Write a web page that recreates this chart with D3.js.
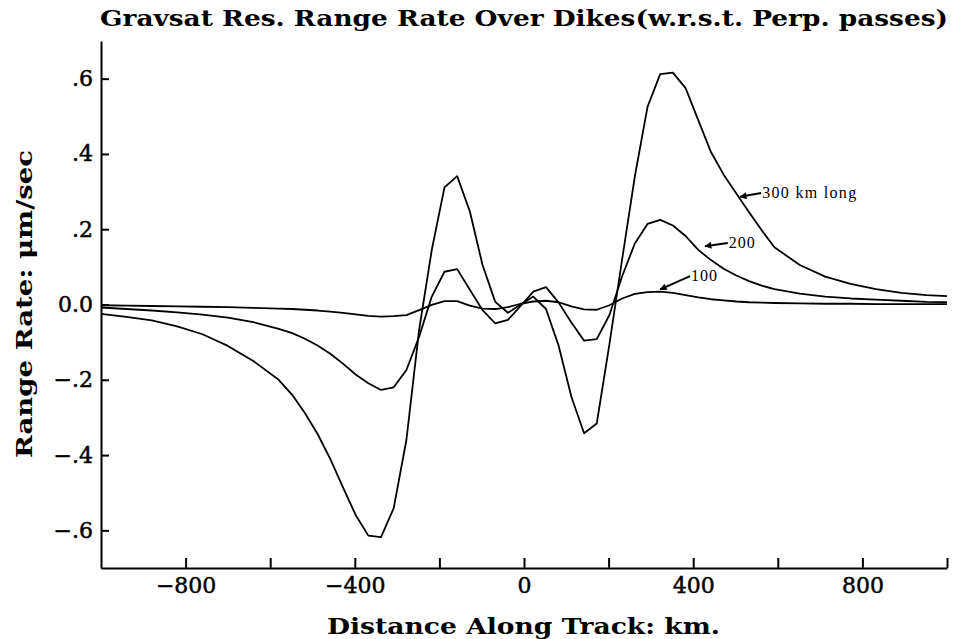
<!DOCTYPE html>
<html>
<head>
<meta charset="utf-8">
<script src="https://cdn.jsdelivr.net/npm/d3@7"></script>
<style>
  body { margin: 0; background: #fff; }
  svg { display: block; }
  .axis path, .axis line { stroke: #000; stroke-width: 2; }
  .axis text { font-family: "DejaVu Serif", serif; font-size: 22px; fill: #000; stroke: #000; stroke-width: 0.5; }
</style>
</head>
<body>
<svg id="chart"></svg>
<script>
// distance along track (km) where the curves were sampled
var distance = [-1000, -940, -880, -820, -760, -700, -640, -580,
  -548, -518, -488, -458, -428, -398, -368, -338, -308, -278, -248, -218,
  -188, -158, -128, -98, -68, -38, -8, 22, 52, 82, 112, 142, 172, 202,
  232, 262, 292, 322, 352, 382, 412, 442, 472, 502, 532, 562, 592,
  652, 712, 772, 832, 892, 952, 1000];

// range rate, um/sec, one list per dike length
var dike300 = [-0.025, -0.033, -0.042, -0.058, -0.079, -0.110, -0.150, -0.200,
  -0.240, -0.288, -0.344, -0.410, -0.486, -0.559, -0.614, -0.618, -0.541, -0.360, -0.068, 0.145,
  0.311, 0.341, 0.247, 0.105, 0.007, -0.022, 0.000, 0.021, -0.012, -0.110, -0.245, -0.342, -0.316, -0.105,
  0.120, 0.340, 0.525, 0.612, 0.616, 0.575, 0.490, 0.405, 0.345, 0.295, 0.245, 0.197, 0.152,
  0.105, 0.074, 0.055, 0.041, 0.031, 0.025, 0.022];

var dike200 = [-0.008, -0.012, -0.016, -0.021, -0.027, -0.035, -0.047, -0.065,
  -0.076, -0.091, -0.109, -0.131, -0.157, -0.186, -0.209, -0.227, -0.220, -0.174, -0.086, 0.021,
  0.087, 0.094, 0.039, -0.015, -0.050, -0.041, -0.004, 0.034, 0.046, 0.005, -0.048, -0.096, -0.092, -0.028,
  0.075, 0.162, 0.214, 0.225, 0.210, 0.182, 0.145, 0.118, 0.095, 0.077, 0.062, 0.050, 0.041,
  0.029, 0.021, 0.016, 0.013, 0.010, 0.007, 0.006];

var dike100 = [-0.002, -0.003, -0.004, -0.005, -0.006, -0.007, -0.009, -0.011,
  -0.012, -0.014, -0.016, -0.019, -0.022, -0.026, -0.030, -0.032, -0.031, -0.028, -0.015, -0.001,
  0.009, 0.009, -0.003, -0.011, -0.012, -0.007, 0.002, 0.008, 0.010, 0.006, -0.005, -0.013, -0.014, -0.002,
  0.016, 0.028, 0.033, 0.034, 0.031, 0.025, 0.019, 0.014, 0.011, 0.008, 0.006, 0.005, 0.004,
  0.003, 0.002, 0.002, 0.001, 0.001, 0.001, 0.001];

var xTicks = [-800, -600, -400, -200, 0, 200, 400, 600, 800, 1000];
var xTickLabels = ["\u2212800", "", "\u2212400", "", "0", "", "400", "", "800", ""];
var yTicks = [0.6, 0.4, 0.2, 0, -0.2, -0.4, -0.6];
var yTickLabels = [".6", ".4", ".2", "0.0", "\u2212.2", "\u2212.4", "\u2212.6"];

// curve labels: [text, arrow head x, arrow head y, text x, text y] in data units
var curveLabels = [
  ["300 km long", 511, 0.286, 563, 0.283],
  ["200", 428, 0.155, 484, 0.150],
  ["100", 322, 0.040, 395, 0.062]
];

var svgWidth = 954, svgHeight = 639;
var svg = d3.select('#chart')
  .attr('width', svgWidth)
  .attr('height', svgHeight);

var x = d3.scaleLinear().domain([-1000, 1000]).range([101, 947]);
var y = d3.scaleLinear().domain([-0.7, 0.7]).range([568, 41]);

svg.append('defs').append('marker')
  .attr('id', 'head')
  .attr('viewBox', '0 0 10 10')
  .attr('refX', 9)
  .attr('refY', 5)
  .attr('markerWidth', 11)
  .attr('markerHeight', 7)
  .attr('markerUnits', 'userSpaceOnUse')
  .attr('orient', 'auto')
  .append('path')
  .attr('d', 'M0,0 L10,5 L0,10 Z')
  .attr('fill', '#000');

// axes
svg.append('g')
  .attr('class', 'axis')
  .attr('transform', 'translate(0,568)')
  .call(d3.axisBottom(x)
    .tickValues(xTicks)
    .tickSizeInner(-10)
    .tickSizeOuter(0)
    .tickPadding(9)
    .tickFormat(function(d, i) { return xTickLabels[i]; }));

svg.append('g')
  .attr('class', 'axis')
  .attr('transform', 'translate(101,0)')
  .call(d3.axisLeft(y)
    .tickValues(yTicks)
    .tickSizeInner(-8)
    .tickSizeOuter(0)
    .tickPadding(8)
    .tickFormat(function(d, i) { return yTickLabels[i]; }));

// curves
var line = d3.line()
  .x(function(d) { return x(d[0]); })
  .y(function(d) { return y(d[1]); });

[dike100, dike200, dike300].forEach(function(series) {
  svg.append('path')
    .datum(distance.map(function(d, i) { return [d, series[i]]; }))
    .attr('d', line)
    .attr('fill', 'none')
    .attr('stroke', '#000')
    .attr('stroke-width', 1.8)
    .attr('stroke-linejoin', 'round');
});

// arrows and labels
curveLabels.forEach(function(c) {
  svg.append('line')
    .attr('x1', x(c[3]) - 1)
    .attr('y1', y(c[4]) - 5)
    .attr('x2', x(c[1]))
    .attr('y2', y(c[2]))
    .attr('stroke', '#000')
    .attr('stroke-width', 2)
    .attr('marker-end', 'url(#head)');
  svg.append('text')
    .attr('x', x(c[3]))
    .attr('y', y(c[4]))
    .attr('font-family', '"Liberation Serif", serif')
    .attr('font-size', 16)
    .attr('textLength', c[0].length > 3 ? 94 : 26)
    .attr('lengthAdjust', 'spacing')
    .text(c[0]);
});

// titles
svg.append('text')
  .attr('x', 100)
  .attr('y', 26)
  .attr('font-family', '"DejaVu Serif", serif')
  .attr('font-weight', 'bold')
  .attr('font-size', 22)
  .attr('textLength', 848)
  .attr('lengthAdjust', 'spacingAndGlyphs')
  .text('Gravsat Res. Range Rate Over Dikes(w.r.s.t. Perp. passes)');

svg.append('text')
  .attr('x', 327)
  .attr('y', 634)
  .attr('font-family', '"DejaVu Serif", serif')
  .attr('font-weight', 'bold')
  .attr('font-size', 22)
  .attr('textLength', 393)
  .attr('lengthAdjust', 'spacingAndGlyphs')
  .text('Distance Along Track: km.');

svg.append('text')
  .attr('transform', 'translate(32,458) rotate(-90)')
  .attr('font-family', '"DejaVu Serif", serif')
  .attr('font-weight', 'bold')
  .attr('font-size', 23)
  .attr('textLength', 308)
  .attr('lengthAdjust', 'spacingAndGlyphs')
  .text('Range Rate: \u03bcm/sec');
</script>
</body>
</html>
